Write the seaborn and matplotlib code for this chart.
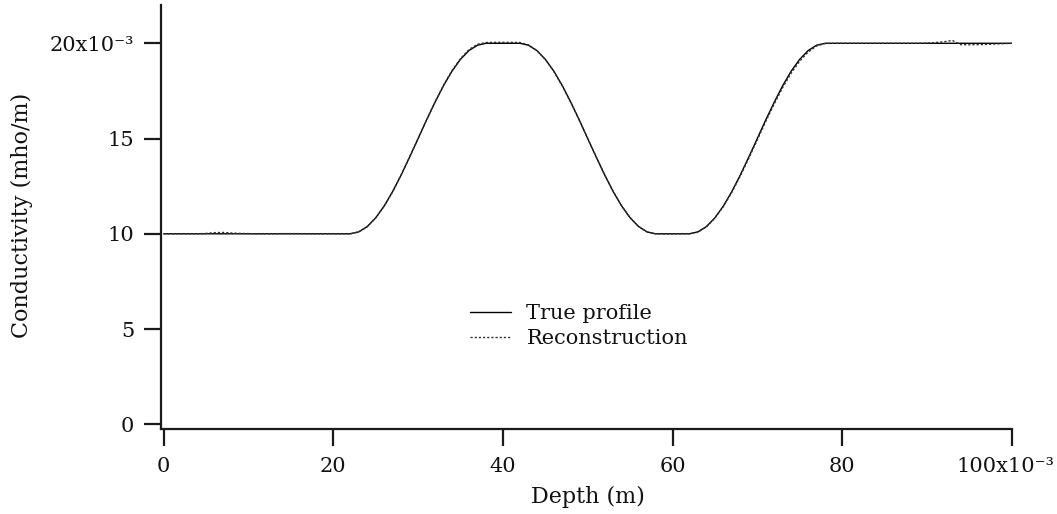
import numpy as np
import pandas as pd
import matplotlib
matplotlib.use("Agg")
import matplotlib.pyplot as plt
import matplotlib.transforms as mtransforms
import seaborn as sns

# ---- data (depth in mm, conductivity in milli-mho/m) ----
depth_mm = list(range(0, 101))
true_mS = [
    10.00, 10.00, 10.00, 10.00, 10.00, 10.00, 10.00, 10.00, 10.00, 10.00,
    10.00, 10.00, 10.00, 10.00, 10.00, 10.00, 10.00, 10.00, 10.00, 10.00,
    10.00, 10.00, 10.00,
    10.10, 10.38, 10.84, 11.46, 12.22, 13.09, 14.03, 15.00, 15.98, 16.91,
    17.78, 18.54, 19.16, 19.62, 19.90, 20.00,
    20.00, 20.00, 20.00, 20.00,
    19.90, 19.62, 19.16, 18.54, 17.78, 16.91, 15.98, 15.00, 14.03, 13.09,
    12.22, 11.46, 10.84, 10.38, 10.10, 10.00,
    10.00, 10.00, 10.00, 10.00,
    10.10, 10.38, 10.84, 11.46, 12.22, 13.09, 14.03, 15.00, 15.98, 16.91,
    17.78, 18.54, 19.16, 19.62, 19.90, 20.00,
    20.00, 20.00, 20.00, 20.00, 20.00, 20.00, 20.00, 20.00, 20.00, 20.00,
    20.00, 20.00, 20.00, 20.00, 20.00, 20.00, 20.00, 20.00, 20.00, 20.00,
    20.00, 20.00,
]
recon_mS = [
    10.00, 10.00, 10.00, 10.00, 10.00, 10.02, 10.06, 10.07, 10.04, 10.02,
    10.01, 10.00, 10.00, 10.00, 10.01, 10.01, 10.01, 10.00, 10.00, 10.00,
    10.00, 10.00, 10.00,
    10.10, 10.37, 10.83, 11.45, 12.21, 13.08, 14.03, 15.00, 15.98, 16.92,
    17.80, 18.57, 19.20, 19.67, 19.95, 20.04,
    20.05, 20.05, 20.05, 20.04,
    19.92, 19.62, 19.15, 18.53, 17.77, 16.90, 15.97, 15.00, 14.04, 13.10,
    12.23, 11.47, 10.85, 10.39, 10.10, 10.00,
    9.99, 9.99, 10.00, 10.00,
    10.09, 10.36, 10.82, 11.43, 12.18, 13.04, 13.97, 14.93, 15.90, 16.82,
    17.68, 18.44, 19.06, 19.54, 19.86, 19.99,
    20.00, 20.00, 20.00, 20.00, 20.00, 20.00, 20.00, 20.00, 20.00, 20.00,
    20.00, 20.01, 20.04, 20.08, 20.15, 19.93, 19.92, 19.93, 19.94, 19.96,
    19.98, 20.00,
]
x_ticks_mm = [0, 20, 40, 60, 80, 100]
x_tick_labels = ["0", "20", "40", "60", "80", "100x10\u207b\u00b3"]
y_ticks_mS = [0, 5, 10, 15, 20]
y_tick_labels = ["0", "5", "10", "15", "20x10\u207b\u00b3"]

df = pd.DataFrame({
    "depth": np.array(depth_mm) * 1e-3,
    "true": np.array(true_mS) * 1e-3,
    "recon": np.array(recon_mS) * 1e-3,
})

# ---- style ----
sns.set_style("ticks")
plt.rcParams["font.family"] = ["DejaVu Serif", "DejaVu Sans"]
FS = 15
FSL = 16

W, H = 1057, 514
fig = plt.figure(figsize=(W / 100, H / 100), dpi=100)
L, R, B, T = 161, 1011.7, 429, 5
ax = fig.add_axes([L / W, (H - B) / H, (R - L) / W, (B - T) / H])

sns.lineplot(data=df, x="depth", y="true", ax=ax, color="black", lw=1.0,
             label="True profile")
sns.lineplot(data=df, x="depth", y="recon", ax=ax, color="#333333", lw=1.0,
             linestyle=(0, (1.6, 1.4)), label="Reconstruction")

ax.set_xlim(-0.32e-3, 0.1)
ax.set_ylim(-0.000247, 0.02201)
ax.set_xticks(np.array(x_ticks_mm) * 1e-3)
ax.set_xticklabels(x_tick_labels)
ax.set_yticks(np.array(y_ticks_mS) * 1e-3)
ax.set_yticklabels(y_tick_labels)

for s in ["top", "right"]:
    ax.spines[s].set_visible(False)
for s in ["left", "bottom"]:
    ax.spines[s].set_linewidth(1.6)
    ax.spines[s].set_color("#1a1a1a")
ax.tick_params(axis="both", direction="out", length=12.3, width=1.6,
               color="#1a1a1a", labelsize=FS, labelcolor="#111111")
ax.tick_params(axis="x", pad=8)
ax.tick_params(axis="y", pad=7)

# nudge the last x tick label slightly left, as in the reference
last = ax.get_xticklabels()[-1]
last.set_transform(last.get_transform() +
                   mtransforms.ScaledTranslation(-6 / 100, 0, fig.dpi_scale_trans))

ax.set_xlabel("Depth (m)", fontsize=FSL, color="#111111")
ax.set_ylabel("Conductivity (mho/m)", fontsize=FSL, color="#111111")
ax.xaxis.set_label_coords(0.502, -0.134)
ax.yaxis.set_label_coords(-0.150, 0.505)

leg = ax.legend(loc="center left", bbox_to_anchor=(0.363, 0.243), frameon=False,
                fontsize=FS, handlelength=2.0, handletextpad=0.72,
                labelspacing=0.3, borderpad=0, borderaxespad=0)
for t in leg.get_texts():
    t.set_color("#111111")

fig.savefig("out.png", dpi=100)
